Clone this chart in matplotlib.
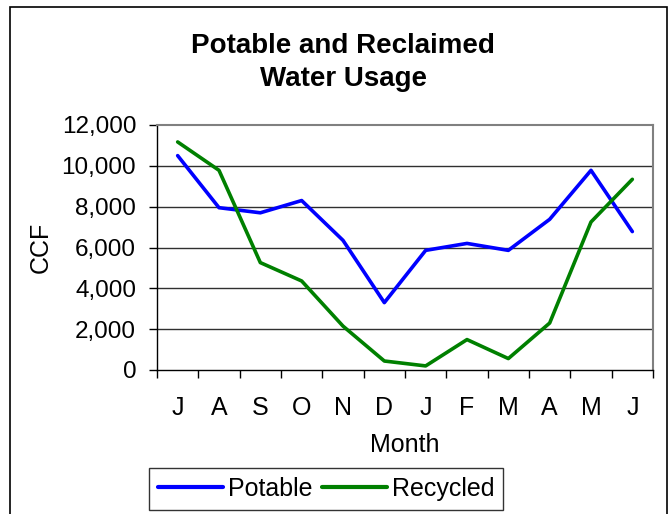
import matplotlib
matplotlib.use("Agg")
import matplotlib.pyplot as plt
from matplotlib.patches import Rectangle
import numpy as np

months = ["J", "A", "S", "O", "N", "D", "J", "F", "M", "A", "M", "J"]
potable = [10500, 7950, 7700, 8300, 6350, 3300, 5860, 6200, 5860, 7380, 9780, 6780]
recycled = [11170, 9780, 5260, 4360, 2150, 440, 200, 1490, 560, 2300, 7250, 9340]
yticks = [0, 2000, 4000, 6000, 8000, 10000, 12000]

plt.rcParams['font.family'] = ['Liberation Sans', 'DejaVu Sans']

fig = plt.figure(figsize=(6.7, 5.14), dpi=100)
fig.patches.append(Rectangle((10/670, -0.05), (667-10)/670, 1.05 - 7/514,
                             transform=fig.transFigure, fill=False,
                             edgecolor='black', linewidth=1.2))

ax = fig.add_axes([157/670, 1-370/514, (653-157)/670, (370-125)/514])
x = np.arange(len(months))
ax.plot(x, potable, color='#0000FF', linewidth=2.6, label='Potable', solid_capstyle='round')
ax.plot(x, recycled, color='#008000', linewidth=2.6, label='Recycled', solid_capstyle='round')

ax.set_xlim(-0.5, len(months) - 0.5)
ax.set_ylim(0, 12000)
ax.set_yticks(yticks)
ax.set_yticklabels([f"{v:,}" for v in yticks], fontsize=17.5)
for v in yticks[1:-1]:
    ax.axhline(v, color='#303030', linewidth=1.0, zorder=0)

ax.set_xticks(np.arange(-0.5, len(months), 1.0))
ax.set_xticklabels([])
ax.set_xticks(x, minor=True)
ax.set_xticklabels(months, minor=True, fontsize=18)
ax.tick_params(axis='x', which='minor', length=0, pad=19)
ax.tick_params(axis='x', which='major', length=6, width=1, direction='out')
ax.tick_params(axis='y', length=6, width=1, direction='out', pad=9)

for s in ['top', 'right']:
    ax.spines[s].set_color('#808080')
    ax.spines[s].set_linewidth(1.5)
for s in ['left', 'bottom']:
    ax.spines[s].set_color('black')
    ax.spines[s].set_linewidth(1.0)

ax.set_xlabel("Month", fontsize=18, labelpad=9)
ax.set_ylabel("CCF", fontsize=18, labelpad=6)

fig.text(343/670, 1-46/514, "Potable and Reclaimed", ha='center', va='center',
         fontsize=20, fontweight='bold')
fig.text(343/670, 1-79/514, "Water Usage", ha='center', va='center',
         fontsize=20, fontweight='bold')

leg = fig.legend(loc='center', bbox_to_anchor=(326/670, 1-489/514), ncol=2,
                 fontsize=18, frameon=True, fancybox=False, edgecolor='black',
                 handlelength=2.6, columnspacing=0.4, handletextpad=0.2,
                 borderpad=0.35)
leg.get_frame().set_linewidth(1.0)
for line in leg.get_lines():
    line.set_linewidth(3)

fig.savefig("out.png", dpi=100)
